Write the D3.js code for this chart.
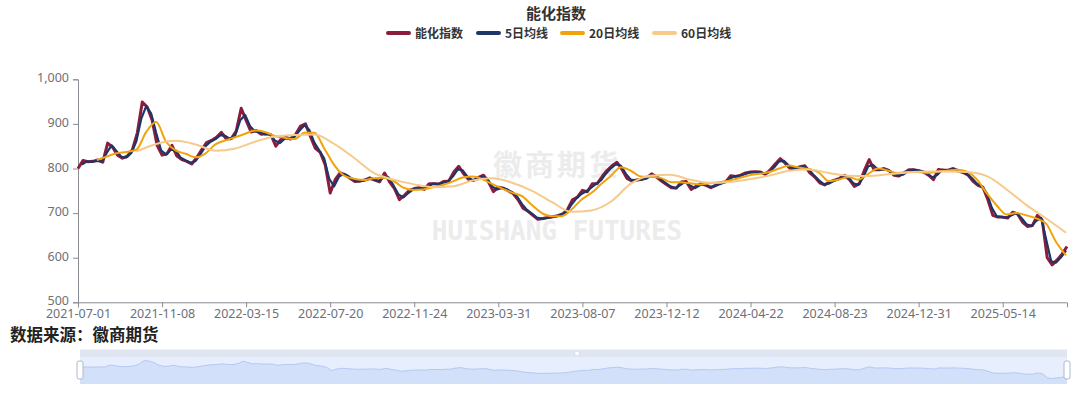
<!DOCTYPE html>
<html>
<head>
<meta charset="utf-8">
<script src="https://cdn.jsdelivr.net/npm/d3@7"></script>
<style>
  body { margin: 0; background: #fff; }
  svg { display: block; font-family: "Noto Sans", "Noto Sans CJK SC", sans-serif; }
</style>
</head>
<body>
<svg id="chart" width="1080" height="396"></svg>
<script>
// trading-day axis: labels every 85 trading days
var tickLabels = ['2021-07-01', '2021-11-08', '2022-03-15', '2022-07-20', '2022-11-24', '2023-03-31',
    '2023-08-07', '2023-12-12', '2024-04-22', '2024-08-23', '2024-12-31', '2025-05-14'];
var tickInterval = 85;
var totalDays = 1000;
var yTicks = [500, 600, 700, 800, 900, 1000];

// 能化指数, one value every 5 trading days from day 0
var indexStep = 5;
var indexValues = [
    800, 818, 815, 816, 819, 814, 857, 848, 830, 823,
    828, 842, 880, 949, 938, 908, 852, 830, 833, 852,
    828, 820, 816, 810, 824, 842, 858, 863, 870, 881,
    866, 867, 884, 935, 908, 882, 885, 877, 878, 876,
    850, 865, 870, 866, 876, 895, 900, 872, 845, 836,
    808, 745, 775, 790, 786, 778, 771, 772, 774, 779,
    774, 770, 790, 770, 755, 730, 740, 751, 755, 757,
    753, 766, 766, 765, 771, 772, 792, 805, 788, 775,
    773, 780, 785, 770, 748, 758, 756, 750, 744, 730,
    711, 704, 695, 686, 688, 690, 692, 694, 698, 708,
    730, 736, 751, 748, 766, 766, 782, 796, 806, 814,
    798, 778, 772, 774, 776, 779, 788, 781, 772, 764,
    757, 756, 770, 771, 753, 760, 766, 762, 757, 763,
    768, 770, 784, 782, 785, 790, 792, 793, 792, 787,
    797, 810, 822, 812, 800, 799, 804, 806, 790, 781,
    768, 763, 770, 774, 778, 785, 775, 760, 766, 795,
    820, 797, 797, 800, 795, 785, 783, 790, 797, 797,
    795, 792, 785, 775, 798, 796, 796, 800, 794, 791,
    785, 771, 762, 758, 730, 695, 691, 691, 689, 702,
    698, 680, 670, 672, 695, 684, 600, 584, 595, 608,
    625
];

// 5日均线, from day 4, every 5 trading days
var ma5Start = 4, ma5Step = 5;
var ma5Values = [
    809, 816, 815, 817, 816, 835, 852, 839, 826, 825,
    835, 861, 912, 940, 923, 880, 841, 831, 842, 840,
    824, 818, 813, 817, 833, 850, 860, 866, 875, 873,
    866, 875, 908, 920, 895, 883, 881, 877, 877, 863,
    857, 867, 868, 871, 885, 897, 886, 858, 840, 822,
    777, 760, 782, 788, 782, 774, 771, 773, 776, 776,
    772, 780, 780, 762, 742, 735, 745, 753, 756, 755,
    759, 766, 765, 768, 771, 782, 798, 796, 781, 774,
    776, 782, 777, 759, 753, 757, 753, 747, 737, 720,
    707, 699, 690, 687, 689, 691, 693, 696, 703, 719,
    733, 743, 749, 757, 766, 774, 789, 801, 810, 806,
    788, 775, 773, 775, 777, 783, 784, 776, 768, 760,
    756, 763, 770, 762, 756, 763, 764, 759, 760, 765,
    769, 777, 783, 783, 787, 791, 792, 792, 789, 792,
    803, 816, 817, 806, 799, 801, 805, 798, 785, 774,
    765, 766, 772, 776, 781, 780, 767, 763, 780, 805,
    808, 797, 798, 797, 790, 784, 786, 793, 797, 796,
    793, 788, 780, 786, 797, 796, 798, 797, 792, 788,
    778, 766, 760, 744, 712, 693, 691, 690, 695, 700,
    689, 675, 671, 683, 689, 640, 592, 589, 601, 616
];

// 20日均线, from day 19, every 10 trading days
var ma20Start = 19, ma20Step = 10;
var ma20Values = [
    819, 827, 834, 837, 842, 882, 904, 860, 840, 833,
    825, 834, 854, 863, 870, 878, 885, 882, 873, 869,
    866, 880, 880, 845, 808, 784, 777, 774, 778, 779,
    772, 757, 752, 753, 758, 763, 771, 780, 782, 776,
    765, 755, 746, 738, 718, 700, 693, 693, 708, 730,
    745, 765, 784, 803, 795, 782, 781, 779, 770, 769,
    767, 764, 767, 769, 773, 779, 785, 788, 792, 800,
    807, 802, 799, 791, 772, 775, 781, 775, 788, 800,
    795, 790, 792, 792, 790, 793, 795, 797, 793, 775,
    744, 717, 697, 700, 695, 688, 676, 635, 605
];

// 60日均线, from day 59, every 20 trading days
var ma60Start = 59, ma60Step = 20;
var ma60Values = [
    838, 855, 862, 854, 840, 845, 860, 872, 875, 876,
    855, 824, 790, 775, 765, 758, 760, 773, 778, 768,
    750, 725, 703, 706, 726, 766, 784, 786, 775, 768,
    770, 776, 784, 795, 798, 790, 784, 783, 787, 791,
    793, 793, 792, 783, 753, 718, 688, 656
];

var seriesNames = ['能化指数', '5日均线', '20日均线', '60日均线'];
var seriesColors = ['#8c1d3a', '#1f3568', '#f0a30a', '#f6ca8a'];

var svg = d3.select('#chart');
var plotLeft = 78, plotRight = 1067, plotTop = 79.3, plotBottom = 302.3;

function pts(values, start, step) {
    return values.map(function(v, i) { return [start + i * step, v]; });
}

var x = d3.scaleLinear().domain([0, totalDays]).range([plotLeft, plotRight]);
var y = d3.scaleLinear().domain([500, 1000]).range([plotBottom, plotTop]);

// watermark
var wm = svg.append('g').attr('fill', '#ececec').attr('font-weight', 700);
wm.append('text')
    .attr('x', 557).attr('y', 176)
    .attr('text-anchor', 'middle')
    .attr('font-family', '"Noto Sans CJK SC"')
    .attr('font-size', 29).attr('letter-spacing', 3)
    .text('徽商期货');
wm.append('text')
    .attr('x', 557).attr('y', 240)
    .attr('text-anchor', 'middle')
    .attr('font-family', '"DejaVu Sans Mono"')
    .attr('font-size', 26)
    .text('HUISHANG FUTURES');

// axes
svg.append('g')
    .attr('transform', 'translate(0,' + plotBottom + ')')
    .call(d3.axisBottom(x)
        .tickValues(tickLabels.map(function(d, i) { return i * tickInterval; }))
        .tickFormat(function(d) { return tickLabels[Math.round(d / tickInterval)]; })
        .tickSizeOuter(0).tickSize(5).tickPadding(2));

var yAxis = svg.append('g')
    .attr('transform', 'translate(' + plotLeft + ',0)')
    .call(d3.axisLeft(y).tickValues(yTicks).tickFormat(d3.format(','))
        .tickSizeOuter(0).tickSize(5).tickPadding(4));
yAxis.selectAll('.tick text').attr('dy', '0.2em');

svg.selectAll('.domain, .tick line').attr('stroke', '#8a8c94');
svg.selectAll('.tick text')
    .attr('fill', '#6e7079')
    .attr('font-size', 12.5)
    .attr('font-family', '"Noto Sans", sans-serif');

// lines
var lineFn = d3.line()
    .x(function(d) { return x(d[0]); })
    .y(function(d) { return y(d[1]); });
var smoothFn = d3.line()
    .curve(d3.curveMonotoneX)
    .x(function(d) { return x(d[0]); })
    .y(function(d) { return y(d[1]); });

var plot = svg.append('g');
plot.append('path')
    .datum(pts(indexValues, 0, indexStep))
    .attr('fill', 'none').attr('stroke', seriesColors[0])
    .attr('stroke-width', 3).attr('stroke-linejoin', 'round')
    .attr('d', lineFn);
plot.append('path')
    .datum(pts(ma5Values, ma5Start, ma5Step))
    .attr('fill', 'none').attr('stroke', seriesColors[1])
    .attr('stroke-width', 2.2).attr('stroke-linejoin', 'round')
    .attr('d', lineFn);
plot.append('path')
    .datum(pts(ma20Values, ma20Start, ma20Step))
    .attr('fill', 'none').attr('stroke', seriesColors[2])
    .attr('stroke-width', 2)
    .attr('d', smoothFn);
plot.append('path')
    .datum(pts(ma60Values, ma60Start, ma60Step))
    .attr('fill', 'none').attr('stroke', seriesColors[3])
    .attr('stroke-width', 2)
    .attr('d', smoothFn);

// title + legend
svg.append('text')
    .attr('x', 556).attr('y', 19)
    .attr('text-anchor', 'middle')
    .attr('font-family', '"Noto Sans CJK SC"')
    .attr('font-weight', 700).attr('font-size', 15)
    .attr('fill', '#333')
    .text('能化指数');

var legendX = [386, 476, 560, 652];
var legend = svg.append('g');
seriesNames.forEach(function(name, i) {
    var g = legend.append('g').attr('transform', 'translate(' + legendX[i] + ',33)');
    g.append('line')
        .attr('x1', 2).attr('x2', 23)
        .attr('stroke', seriesColors[i]).attr('stroke-width', 4)
        .attr('stroke-linecap', 'round');
    g.append('text')
        .attr('x', 29).attr('y', 4.5)
        .attr('font-family', '"Noto Sans CJK SC"')
        .attr('font-weight', 700).attr('font-size', 12)
        .attr('fill', '#333')
        .text(name);
});

// source
svg.append('text')
    .attr('x', 10).attr('y', 341)
    .attr('font-family', '"Noto Sans CJK SC"')
    .attr('font-weight', 700).attr('font-size', 16.5)
    .attr('fill', '#222')
    .text('数据来源：徽商期货');

// data zoom slider
var sl = { x0: 80, x1: 1067, top: 349.5, bar: 357, bottom: 384 };
var sx = d3.scaleLinear().domain([0, totalDays]).range([sl.x0, sl.x1]);
var sy = d3.scaleLinear()
    .domain(d3.extent(indexValues))
    .range([378.5, 360.5]);
var slider = svg.append('g');
slider.append('rect')
    .attr('x', sl.x0).attr('y', sl.top)
    .attr('width', sl.x1 - sl.x0).attr('height', sl.bar - sl.top)
    .attr('fill', '#dfe5f1');
slider.append('rect')
    .attr('x', sl.x0).attr('y', sl.bar)
    .attr('width', sl.x1 - sl.x0).attr('height', sl.bottom - sl.bar)
    .attr('fill', '#e7eefd');
var shadow = pts(indexValues, 0, indexStep);
slider.append('path')
    .datum(shadow)
    .attr('fill', '#d3e0fa')
    .attr('d', d3.area()
        .x(function(d) { return sx(d[0]); })
        .y0(sl.bottom)
        .y1(function(d) { return sy(d[1]); }));
slider.append('path')
    .datum(shadow)
    .attr('fill', 'none').attr('stroke', '#b5c9f2').attr('stroke-width', 1)
    .attr('d', d3.line()
        .x(function(d) { return sx(d[0]); })
        .y(function(d) { return sy(d[1]); }));
slider.append('rect')
    .attr('x', 575).attr('y', 351.5)
    .attr('width', 4).attr('height', 4)
    .attr('fill', '#fff').attr('stroke', '#c9d2e6').attr('stroke-width', 0.5);
[sl.x0, sl.x1].forEach(function(hx) {
    slider.append('rect')
        .attr('x', hx - 3).attr('y', 361)
        .attr('width', 6).attr('height', 18)
        .attr('rx', 2)
        .attr('fill', '#fff').attr('stroke', '#acb8d1').attr('stroke-width', 1);
});
</script>
</body>
</html>
